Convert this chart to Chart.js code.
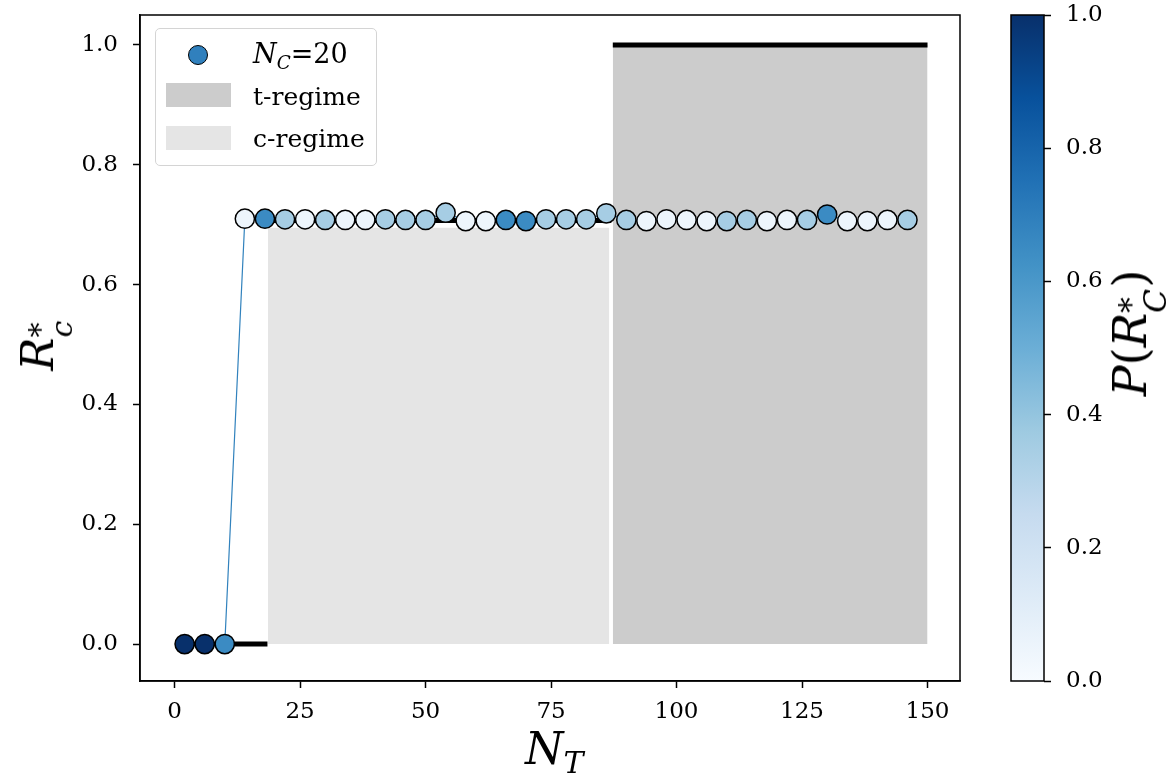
<!DOCTYPE html>
<html>
<head>
    <meta charset="utf-8">
    <title>R*c vs N_T</title>
    <script src="https://cdn.jsdelivr.net/npm/chart.js"></script>
    <style>
        body { margin: 0; background: #fff; }
        #wrap { position: relative; width: 1169px; height: 779px; font-family: 'DejaVu Serif', serif; color: #000; }
        canvas { position: absolute; top: 0; }
        #mainChart { left: 0; }
        #cbChart { left: 990px; }
        .lbl { position: absolute; white-space: nowrap; line-height: 1; }
        .rot { transform: translate(-50%, -50%) rotate(-90deg); }
        .sub { font-size: 68%; position: relative; top: 0.3em; }
        .stack { display: inline-block; position: relative; width: 0.55em; }
        .stack .up { position: absolute; left: 0; top: -0.95em; font-size: 68%; font-style: normal; }
        .stack .dn { position: absolute; left: 0; top: -0.2em; font-size: 68%; }
        #legendBox { position: absolute; left: 155px; top: 28px; width: 220px; height: 136px;
            border: 1.5px solid #d4d4d4; border-radius: 5px; background: rgba(255,255,255,0.8); }
        .swatch { position: absolute; }
        .legTxt { position: absolute; font-size: 25px; line-height: 1; white-space: nowrap; }
    </style>
</head>
<body>
<div id="wrap">
    <canvas id="mainChart" width="990" height="779"></canvas>
    <canvas id="cbChart" width="179" height="779"></canvas>

    <div id="legendBox"></div>
    <div class="swatch" style="left:188px; top:45px; width:18px; height:18px; border:1.5px solid #000; border-radius:50%; background:#3080bd;"></div>
    <div class="swatch" style="left:166px; top:83px; width:65px; height:24px; background:#cccccc;"></div>
    <div class="swatch" style="left:166px; top:126px; width:65px; height:24px; background:#e5e5e5;"></div>
    <div class="legTxt" style="left:253px; top:40px; font-size:27px;"><i>N</i><span class="sub"><i>C</i></span>=20</div>
    <div class="legTxt" style="left:253px; top:84px;">t-regime</div>
    <div class="legTxt" style="left:253px; top:126px;">c-regime</div>

    <div class="lbl" style="left:525px; top:727px; font-size:44px;"><i>N</i><span class="sub"><i>T</i></span></div>
    <div class="lbl rot" style="left:38px; top:342px; font-size:44px;"><i>R</i><span class="stack"><span class="up">*</span><span class="dn"><i>c</i></span></span></div>
    <div class="lbl rot" style="left:1130px; top:333px; font-size:46px;"><i>P</i>(<i>R</i><span class="stack"><span class="up">*</span><span class="dn"><i>C</i></span></span>)</div>
</div>

<script>
    // datos
    var nT = [2, 6, 10, 14, 18, 22, 26, 30, 34, 38, 42, 46, 50, 54, 58, 62, 66, 70, 74,
              78, 82, 86, 90, 94, 98, 102, 106, 110, 114, 118, 122, 126, 130, 134, 138, 142, 146];
    var rcStar = [0, 0, 0, 0.710, 0.710, 0.709, 0.709, 0.708, 0.708, 0.708, 0.709, 0.708, 0.708,
                  0.720, 0.706, 0.706, 0.708, 0.706, 0.709, 0.709, 0.709, 0.719, 0.708, 0.706,
                  0.709, 0.708, 0.706, 0.706, 0.708, 0.706, 0.708, 0.708, 0.717, 0.706, 0.706,
                  0.708, 0.708];
    var pRc = [1.0, 1.0, 0.65, 0.05, 0.65, 0.35, 0.05, 0.35, 0.05, 0.05, 0.35, 0.35, 0.35,
               0.35, 0.05, 0.05, 0.65, 0.65, 0.35, 0.35, 0.35, 0.35, 0.35, 0.05, 0.05, 0.05,
               0.05, 0.35, 0.35, 0.05, 0.05, 0.35, 0.65, 0.05, 0.05, 0.05, 0.35];

    // linea negra por tramos (null corta la linea)
    var stepX = [2, 18.5, 18.5, 18.5, 87, 87, 87.3, 150];
    var stepY = [0, 0, null, 0.707, 0.707, null, 1, 1];

    // regiones sombreadas
    var tRegimeX = [87.3, 150];
    var tRegimeY = [1, 1];
    var cRegimeX = [18.6, 86.6];
    var cRegimeY = [0.695, 0.695];

    var xTickValues = [0, 25, 50, 75, 100, 125, 150];
    var yTickValues = [0, 0.2, 0.4, 0.6, 0.8, 1.0];
    var cbTickValues = [0, 0.2, 0.4, 0.6, 0.8, 1.0];

    var bluesStops = ['#f7fbff', '#deebf7', '#c6dbef', '#9ecae1', '#6baed6',
                      '#4292c6', '#2171b5', '#08519c', '#08306b'];

    function hexRgb(h) {
        return [parseInt(h.substr(1, 2), 16), parseInt(h.substr(3, 2), 16), parseInt(h.substr(5, 2), 16)];
    }
    function blues(t) {
        t = Math.max(0, Math.min(1, t));
        var pos = t * (bluesStops.length - 1);
        var i = Math.min(Math.floor(pos), bluesStops.length - 2);
        var f = pos - i;
        var a = hexRgb(bluesStops[i]), b = hexRgb(bluesStops[i + 1]);
        var c = a.map(function (v, k) { return Math.round(v + (b[k] - v) * f); });
        return 'rgb(' + c.join(',') + ')';
    }
    function pts(xs, ys) {
        return xs.map(function (x, i) { return { x: x, y: ys[i] }; });
    }

    var tickFont = { family: 'DejaVu Serif', size: 23 };

    // el eje y no debe reservar espacio extra arriba/abajo
    function yFit(width) {
        return function (s) {
            s.width = width;
            s.paddingTop = 0;
            s.paddingBottom = 0;
        };
    }

    var framePlugin = {
        id: 'frame',
        afterDraw: function (chart) {
            var a = chart.chartArea, ctx = chart.ctx;
            ctx.save();
            ctx.strokeStyle = '#000';
            ctx.lineWidth = 1.5;
            ctx.strokeRect(a.left, a.top, a.right - a.left, a.bottom - a.top);
            ctx.restore();
        }
    };

    new Chart(document.getElementById('mainChart'), {
        type: 'line',
        data: {
            datasets: [{
                label: 'N_C=20',
                data: pts(nT, rcStar),
                borderColor: '#3182bd',
                borderWidth: 1.2,
                pointRadius: 9.6,
                pointBackgroundColor: pRc.map(blues),
                pointBorderColor: '#000',
                pointBorderWidth: 1.5,
                tension: 0,
                order: 0
            }, {
                label: 'umbral',
                data: pts(stepX, stepY),
                borderColor: '#000',
                borderWidth: 5,
                borderCapStyle: 'butt',
                pointRadius: 0,
                spanGaps: false,
                order: 1
            }, {
                label: 't-regime',
                data: pts(tRegimeX, tRegimeY),
                borderWidth: 0,
                pointRadius: 0,
                fill: 'origin',
                backgroundColor: '#cccccc',
                order: 2
            }, {
                label: 'c-regime',
                data: pts(cRegimeX, cRegimeY),
                borderWidth: 0,
                pointRadius: 0,
                fill: 'origin',
                backgroundColor: '#e5e5e5',
                order: 3
            }]
        },
        options: {
            responsive: false,
            animation: false,
            layout: { padding: { top: 15, right: 30, left: 0, bottom: 0 } },
            plugins: { legend: { display: false }, tooltip: { enabled: false } },
            scales: {
                x: {
                    type: 'linear',
                    min: -6.89,
                    max: 156.47,
                    afterBuildTicks: function (s) { s.ticks = xTickValues.map(function (v) { return { value: v }; }); },
                    afterFit: function (s) { s.height = 98; s.paddingLeft = 0; s.paddingRight = 0; },
                    ticks: { font: tickFont, color: '#000', padding: 10, maxRotation: 0, autoSkip: false },
                    grid: { drawOnChartArea: false, drawTicks: true, tickLength: 7, tickColor: '#000', tickWidth: 1.5 },
                    border: { color: '#000', width: 1.5 }
                },
                y: {
                    type: 'linear',
                    min: -0.0616,
                    max: 1.05,
                    afterBuildTicks: function (s) { s.ticks = yTickValues.map(function (v) { return { value: v }; }); },
                    afterFit: yFit(140),
                    ticks: {
                        font: tickFont, color: '#000', padding: 15,
                        callback: function (v) { return v.toFixed(1); }
                    },
                    grid: { drawOnChartArea: false, drawTicks: true, tickLength: 7, tickColor: '#000', tickWidth: 1.5 },
                    border: { color: '#000', width: 1.5 }
                }
            }
        },
        plugins: [framePlugin]
    });

    // barra de color
    var gradientPlugin = {
        id: 'gradiente',
        beforeDatasetsDraw: function (chart) {
            var a = chart.chartArea, ctx = chart.ctx, ys = chart.scales.y;
            var g = ctx.createLinearGradient(0, ys.getPixelForValue(0), 0, ys.getPixelForValue(1));
            bluesStops.forEach(function (c, i) { g.addColorStop(i / (bluesStops.length - 1), c); });
            ctx.save();
            ctx.fillStyle = g;
            ctx.fillRect(a.left, a.top, a.right - a.left, a.bottom - a.top);
            ctx.restore();
        }
    };

    new Chart(document.getElementById('cbChart'), {
        type: 'line',
        data: { datasets: [] },
        options: {
            responsive: false,
            animation: false,
            layout: { padding: { left: 21, top: 15, right: 0, bottom: 98 } },
            plugins: { legend: { display: false }, tooltip: { enabled: false } },
            scales: {
                x: { type: 'linear', display: false, min: 0, max: 1 },
                y: {
                    type: 'linear',
                    position: 'right',
                    min: 0,
                    max: 1,
                    afterBuildTicks: function (s) { s.ticks = cbTickValues.map(function (v) { return { value: v }; }); },
                    afterFit: yFit(125),
                    ticks: {
                        font: tickFont, color: '#000', padding: 15,
                        callback: function (v) { return v.toFixed(1); }
                    },
                    grid: { drawOnChartArea: false, drawTicks: true, tickLength: 7, tickColor: '#000', tickWidth: 1.5 },
                    border: { display: false }
                }
            }
        },
        plugins: [gradientPlugin, framePlugin]
    });
</script>
</body>
</html>
